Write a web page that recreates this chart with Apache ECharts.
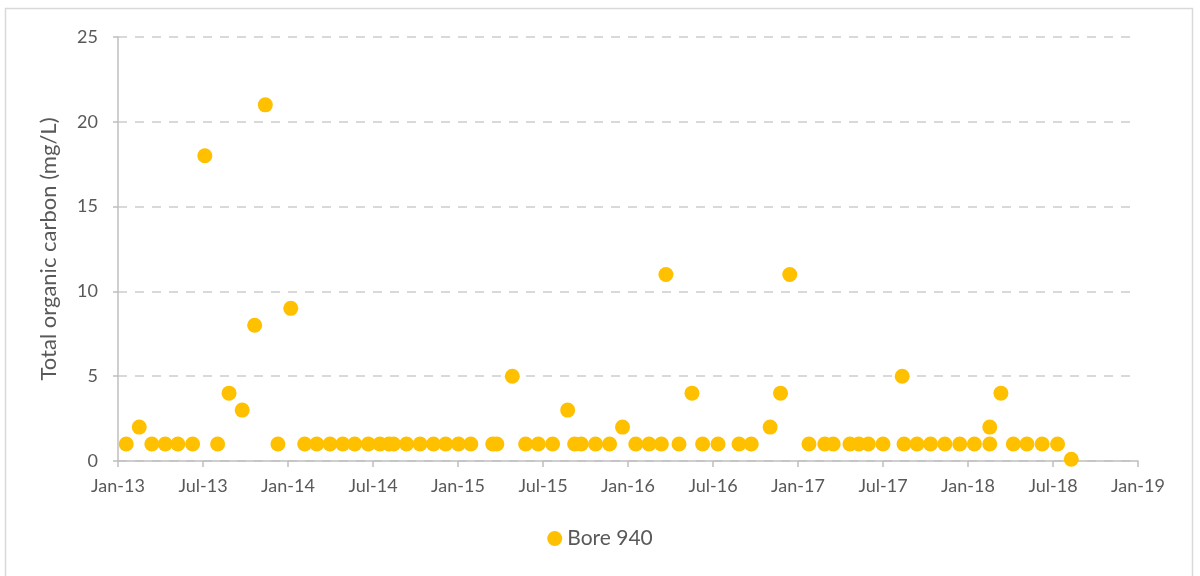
<!DOCTYPE html>
<html>
<head>
<meta charset="utf-8">
<script src="https://cdn.jsdelivr.net/npm/echarts@6/dist/echarts.min.js"></script>
<style>
html,body{margin:0;padding:0;background:#fff;}
#chart{width:1200px;height:576px;}
</style>
</head>
<body>
<div id="chart"></div>
<script>
// Sample dates and Total organic carbon (mg/L) for Bore 940
const sampleDates = [
  '2013-01-19','2013-02-15','2013-03-13','2013-04-11','2013-05-08','2013-06-09','2013-07-05','2013-08-02','2013-08-27','2013-09-24',
  '2013-10-21','2013-11-13','2013-12-10','2014-01-07','2014-02-06','2014-03-02','2014-03-31','2014-04-27','2014-05-23','2014-06-21',
  '2014-07-16','2014-08-05','2014-08-15','2014-09-12','2014-10-11','2014-11-09','2014-12-05','2015-01-02','2015-01-29','2015-03-15',
  '2015-03-24','2015-04-26','2015-05-25','2015-06-21','2015-07-22','2015-08-24','2015-09-08','2015-09-22','2015-10-23','2015-11-22',
  '2015-12-20','2016-01-18','2016-02-15','2016-03-12','2016-03-22','2016-04-19','2016-05-17','2016-06-09','2016-07-12','2016-08-27',
  '2016-09-22','2016-11-02','2016-11-24','2016-12-14','2017-01-25','2017-02-26','2017-03-16','2017-04-21','2017-05-10','2017-05-31',
  '2017-07-01','2017-08-12','2017-08-16','2017-09-13','2017-10-12','2017-11-12','2017-12-14','2018-01-15','2018-02-16','2018-02-16',
  '2018-03-11','2018-04-07','2018-05-06','2018-06-08','2018-07-11','2018-08-10'
];
const tocValues = [
  1,2,1,1,1,1,18,1,4,3,
  8,21,1,9,1,1,1,1,1,1,
  1,1,1,1,1,1,1,1,1,1,
  1,5,1,1,1,3,1,1,1,1,
  2,1,1,1,11,1,4,1,1,1,
  1,2,4,11,1,1,1,1,1,1,
  1,5,1,1,1,1,1,1,1,2,
  4,1,1,1,1,0.1
];
const seriesName = 'Bore 940';
const yAxisTitle = 'Total organic carbon (mg/L)';
const monthNames = ['Jan','Feb','Mar','Apr','May','Jun','Jul','Aug','Sep','Oct','Nov','Dec'];
const startYear = 2013;

function toMonthIndex(s) {
  const [y, m, d] = s.split('-').map(Number);
  const dim = new Date(Date.UTC(y, m, 0)).getUTCDate();
  return (y - startYear) * 12 + (m - 1) + (d - 1) / dim;
}
function monthLabel(v) {
  const idx = Math.round(v);
  const y = startYear + Math.floor(idx / 12);
  const m = ((idx % 12) + 12) % 12;
  return monthNames[m] + '-' + String(y).slice(-2);
}

const points = sampleDates.map((d, i) => [toMonthIndex(d), tocValues[i]]);

const textColor = '#595959';
const font = 'Lato, "Open Sans", sans-serif';

const chart = echarts.init(document.getElementById('chart'), null, {renderer: 'canvas'});
chart.setOption({
  animation: false,
  backgroundColor: '#ffffff',
  graphic: [{
    type: 'rect',
    shape: {x: 5.5, y: 8.5, width: 1187, height: 600},
    style: {fill: 'none', stroke: '#d9d9d9', lineWidth: 1.5},
    silent: true, z: -1
  }],
  grid: {left: 118, right: 62, top: 37, bottom: 115, containLabel: false},
  legend: {
    data: [seriesName],
    bottom: 22,
    left: 'center',
    icon: 'circle',
    itemWidth: 15, itemHeight: 15,
    itemGap: 10,
    textStyle: {color: textColor, fontSize: 21, fontFamily: font}
  },
  xAxis: {
    type: 'value',
    min: 0, max: 72, interval: 6,
    axisLine: {show: true, lineStyle: {color: '#bfbfbf', width: 1.5}},
    axisTick: {show: true, length: 6, lineStyle: {color: '#bfbfbf', width: 1.5}},
    splitLine: {show: false},
    axisLabel: {color: textColor, fontSize: 18, fontFamily: font, margin: 16, formatter: monthLabel}
  },
  yAxis: {
    type: 'value',
    min: 0, max: 25, interval: 5,
    name: yAxisTitle,
    nameLocation: 'middle',
    nameGap: 58,
    nameTextStyle: {color: textColor, fontSize: 22, fontFamily: font},
    axisLine: {show: true, lineStyle: {color: '#bfbfbf', width: 1.5}},
    axisTick: {show: true, length: 5, lineStyle: {color: '#bfbfbf', width: 1.5}},
    splitLine: {show: true, lineStyle: {color: '#d9d9d9', width: 2, type: [9, 8]}},
    axisLabel: {color: textColor, fontSize: 18, fontFamily: font, margin: 20}
  },
  series: [{
    name: seriesName,
    type: 'scatter',
    data: points,
    symbol: 'circle',
    symbolSize: 15,
    itemStyle: {color: '#FFC000', opacity: 1}
  }]
});
</script>
</body>
</html>
